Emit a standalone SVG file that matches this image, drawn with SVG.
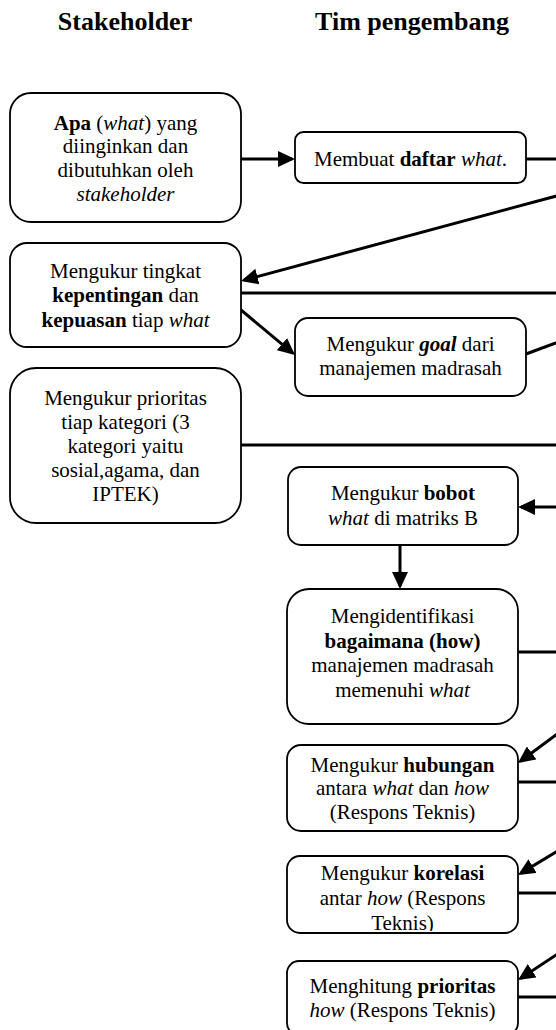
<svg xmlns="http://www.w3.org/2000/svg" width="556" height="1030" viewBox="0 0 556 1030">
<defs>
<style>
.box{fill:#fff;stroke:#000;stroke-width:1.8}
.t{font-family:"Liberation Serif","Times New Roman",serif;font-size:21px;fill:#000;text-anchor:middle}
.h{font-family:"Liberation Serif","Times New Roman",serif;font-size:26px;font-weight:bold;fill:#000;text-anchor:middle}
.b{font-weight:bold}
.i{font-style:italic}
.c{fill:none;stroke:#000;stroke-width:3}
.a{marker-end:url(#arr)}
</style>
<marker id="arr" markerUnits="userSpaceOnUse" markerWidth="17" markerHeight="16" refX="14" refY="8" orient="auto" viewBox="0 0 17 16">
<path d="M0,0 L17,8 L0,16 Z" fill="#000"/>
</marker>
<clipPath id="clip9"><rect x="287" y="856" width="231" height="75"/></clipPath>
</defs>
<rect width="556" height="1030" fill="#fff"/>
<g id="headers">
<text class="h" x="125" y="30">Stakeholder</text>
<text class="h" x="412" y="30">Tim pengembang</text>
</g>
<g id="connectors">
<line class="c a" x1="241" y1="159" x2="292" y2="159"/>
<line class="c" x1="526" y1="159" x2="560" y2="159"/>
<line class="c a" x1="560" y1="195" x2="243.9" y2="280.2"/>
<line class="c" x1="241" y1="293" x2="560" y2="293"/>
<line class="c a" x1="241" y1="310" x2="292.7" y2="353.1"/>
<line class="c" x1="526" y1="354" x2="560" y2="341.5"/>
<line class="c" x1="241" y1="445" x2="560" y2="445"/>
<line class="c a" x1="560" y1="507" x2="521" y2="507"/>
<line class="c a" x1="400" y1="545" x2="400" y2="586"/>
<line class="c" x1="518" y1="652" x2="560" y2="652"/>
<line class="c a" x1="560" y1="732" x2="520.4" y2="761.2"/>
<line class="c" x1="518" y1="782" x2="560" y2="782"/>
<line class="c a" x1="560" y1="849.6" x2="520.6" y2="873.4"/>
<line class="c" x1="518" y1="893" x2="560" y2="893"/>
<line class="c a" x1="560" y1="952.4" x2="520.5" y2="978.4"/>
<line class="c" x1="518" y1="997" x2="560" y2="997"/>
</g>
<g id="n1">
<rect class="box" x="10" y="93" width="231" height="129" rx="21" ry="21"/>
<text class="t" x="125.5" y="130"><tspan class="b">Apa</tspan> (<tspan class="i">what</tspan>) yang</text>
<text class="t" x="125.5" y="153">diinginkan dan</text>
<text class="t" x="125.5" y="177">dibutuhkan oleh</text>
<text class="t" x="125.5" y="201"><tspan class="i">stakeholder</tspan></text>
</g>
<g id="n2">
<rect class="box" x="295" y="132" width="231" height="51" rx="8.5" ry="8.5"/>
<text class="t" x="410.5" y="166">Membuat <tspan class="b">daftar</tspan> <tspan class="i">what</tspan>.</text>
</g>
<g id="n3">
<rect class="box" x="10" y="243" width="231" height="104" rx="17" ry="17"/>
<text class="t" x="125.5" y="278">Mengukur tingkat</text>
<text class="t" x="125.5" y="302"><tspan class="b">kepentingan</tspan> dan</text>
<text class="t" x="125.5" y="327"><tspan class="b">kepuasan</tspan> tiap <tspan class="i">what</tspan></text>
</g>
<g id="n4">
<rect class="box" x="295" y="318" width="231" height="78" rx="13" ry="13"/>
<text class="t" x="410.5" y="351">Mengukur <tspan class="b i">goal</tspan> dari</text>
<text class="t" x="410.5" y="375">manajemen madrasah</text>
</g>
<g id="n5">
<rect class="box" x="10" y="368" width="231" height="155" rx="26" ry="26"/>
<text class="t" x="125.5" y="405">Mengukur prioritas</text>
<text class="t" x="125.5" y="429">tiap kategori (3</text>
<text class="t" x="125.5" y="453">kategori yaitu</text>
<text class="t" x="125.5" y="477">sosial,agama, dan</text>
<text class="t" x="125.5" y="501">IPTEK)</text>
</g>
<g id="n6">
<rect class="box" x="288" y="467" width="230" height="78" rx="13" ry="13"/>
<text class="t" x="403" y="500">Mengukur <tspan class="b">bobot</tspan></text>
<text class="t" x="403" y="525"><tspan class="i">what</tspan> di matriks B</text>
</g>
<g id="n7">
<rect class="box" x="287" y="589" width="231" height="135" rx="22" ry="22"/>
<text class="t" x="402.5" y="623">Mengidentifikasi</text>
<text class="t" x="402.5" y="648"><tspan class="b">bagaimana (how)</tspan></text>
<text class="t" x="402.5" y="672">manajemen madrasah</text>
<text class="t" x="402.5" y="697">memenuhi <tspan class="i">what</tspan></text>
</g>
<g id="n8">
<rect class="box" x="287" y="745" width="231" height="86" rx="14" ry="14"/>
<text class="t" x="402.5" y="772">Mengukur <tspan class="b">hubungan</tspan></text>
<text class="t" x="402.5" y="795">antara <tspan class="i">what</tspan> dan <tspan class="i">how</tspan></text>
<text class="t" x="402.5" y="819">(Respons Teknis)</text>
</g>
<g id="n9">
<rect class="box" x="287" y="856" width="231" height="77" rx="13" ry="13"/>
<text class="t" x="402.5" y="880">Mengukur <tspan class="b">korelasi</tspan></text>
<text class="t" x="402.5" y="905">antar <tspan class="i">how</tspan> (Respons</text>
<text class="t" x="402.5" y="930" clip-path="url(#clip9)">Teknis)</text>
</g>
<g id="n10">
<rect class="box" x="287" y="961" width="231" height="74" rx="12" ry="12"/>
<text class="t" x="402.5" y="993">Menghitung <tspan class="b">prioritas</tspan></text>
<text class="t" x="402.5" y="1017"><tspan class="i">how</tspan> (Respons Teknis)</text>
</g>
</svg>
